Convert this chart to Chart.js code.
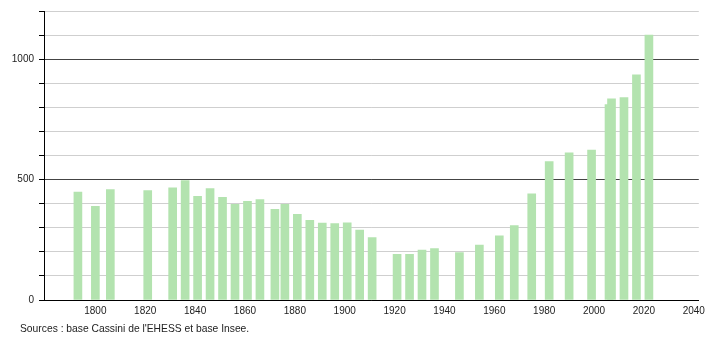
<!DOCTYPE html>
<html>
<head>
<meta charset="utf-8">
<script src="https://cdn.jsdelivr.net/npm/chart.js@4"></script>
<style>
  html, body { margin: 0; padding: 0; background: #fff; }
  #wrap { position: relative; width: 710px; height: 340px; }
  #source {
    position: absolute; left: 20px; top: 323px;
    font: 10.3px "Liberation Sans", Arial, sans-serif; color: #222;
  }
</style>
</head>
<body>
<div id="wrap">
  <canvas id="chart" width="710" height="340"></canvas>
  <div id="source">Sources : base Cassini de l'EHESS et base Insee.</div>
</div>
<script>
const years = [1793, 1800, 1806, 1821, 1831, 1836, 1841, 1846, 1851, 1856,
  1861, 1866, 1872, 1876, 1881, 1886, 1891, 1896, 1901, 1906,
  1911, 1921, 1926, 1931, 1936, 1946, 1954, 1962, 1968, 1975,
  1982, 1990, 1999, 2006, 2007, 2012, 2017, 2022];
const population = [448, 389, 458, 454, 466, 496, 430, 463, 426, 397,
  410, 417, 376, 397, 356, 331, 319, 317, 320, 290,
  259, 190, 190, 207, 214, 197, 228, 266, 309, 441,
  575, 611, 623, 811, 835, 840, 935, 1100];
const xTickLabels = [1800, 1820, 1840, 1860, 1880, 1900, 1920, 1940, 1960, 1980, 2000, 2020, 2040];
const yTickLabels = [0, 500, 1000];

const ctx = document.getElementById('chart').getContext('2d');

new Chart(ctx, {
  type: 'bar',
  data: {
    datasets: [{
      data: years.map((y, i) => ({ x: y, y: population[i] })),
      backgroundColor: '#b3e3af',
      barThickness: 8,
      borderWidth: 0,
    }],
  },
  options: {
    responsive: false,
    animation: false,
    layout: { padding: { top: 10, right: 10, bottom: 20, left: 0 } },
    plugins: {
      legend: { display: false },
      tooltip: { enabled: false },
    },
    scales: {
      x: {
        type: 'linear',
        offset: false,
        min: 1779.4,
        max: 2042,
        afterBuildTicks: (scale) => {
          scale.ticks = xTickLabels.map((v) => ({ value: v }));
        },
        afterFit: (scale) => { scale.height = 20; },
        grid: { display: false, drawTicks: false },
        border: { color: '#000', width: 1 },
        ticks: {
          color: '#222',
          padding: 5,
          maxRotation: 0,
          font: { family: 'Liberation Sans, Arial, sans-serif', size: 10 },
          callback: (v) => String(v),
        },
      },
      y: {
        min: 0,
        max: 1200,
        afterFit: (scale) => { scale.width = 44; },
        border: { color: '#000', width: 1 },
        grid: {
          color: (c) => (c.tick && c.tick.value % 500 === 0 ? '#444' : '#cfcfcf'),
          tickColor: '#000',
          tickLength: 5,
          lineWidth: 1,
        },
        ticks: {
          stepSize: 100,
          color: '#222',
          padding: 5,
          font: { family: 'Liberation Sans, Arial, sans-serif', size: 10 },
          callback: (v) => (yTickLabels.includes(v) ? String(v) : ''),
        },
      },
    },
  },
});
</script>
</body>
</html>
